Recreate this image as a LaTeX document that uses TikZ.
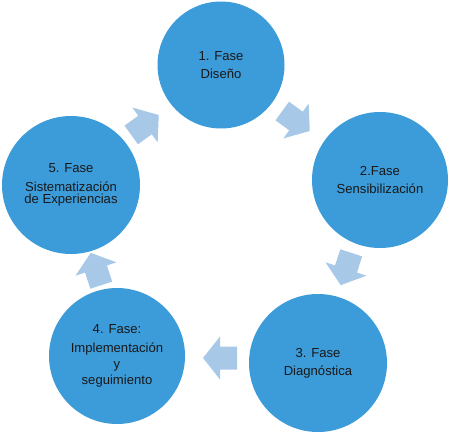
\documentclass[tikz,border=0pt]{standalone}
\usepackage{fontspec}
\setmainfont{Liberation Sans}
\definecolor{phaseblue}{HTML}{3C9BD9}
\definecolor{arrowblue}{HTML}{A8C8E8}
\tikzset{
  phase/.style={circle, fill=phaseblue, inner sep=0pt, align=center,
    font=\fontsize{13.1}{17.8}\selectfont, text=black!90},
  blockarrow/.pic={\fill[arrowblue] (-17,-11.5) -- (0,-11.5) -- (0,-21.5) -- (17,0)
     -- (0,21.5) -- (0,11.5) -- (-17,11.5) -- cycle;}
}
\begin{document}
\begin{tikzpicture}[x=1pt,y=-1pt]
\useasboundingbox (0,0) rectangle (449,434);
\node[phase, minimum size=127pt] (f1) at (221,65) {1. Fase\\Diseño};
\node[phase, minimum size=136pt] (f2) at (380,180) {2.Fase\\Sensibilización};
\node[phase, minimum size=138pt] (f3) at (318,363) {3. Fase\\Diagnóstica};
\node[phase, minimum size=136pt] (f4) at (117,356) {4. Fase:\\[1pt]Implementación\\[-2pt]y\\[-2pt]seguimiento};
\node[phase, minimum size=138pt] (f5) at (71,185) {5. Fase\\[1pt]Sistematización\\[-5pt]de Experiencias};
\pic[rotate=-36] (a12) at (296,121) {blockarrow};
\pic[rotate=-108] (a23) at (346,269) {blockarrow};
\pic[rotate=180] (a34) at (220,358) {blockarrow};
\pic[rotate=108] (a45) at (96,269) {blockarrow};
\pic[rotate=36] (a51) at (145,125) {blockarrow};
\end{tikzpicture}
\end{document}
